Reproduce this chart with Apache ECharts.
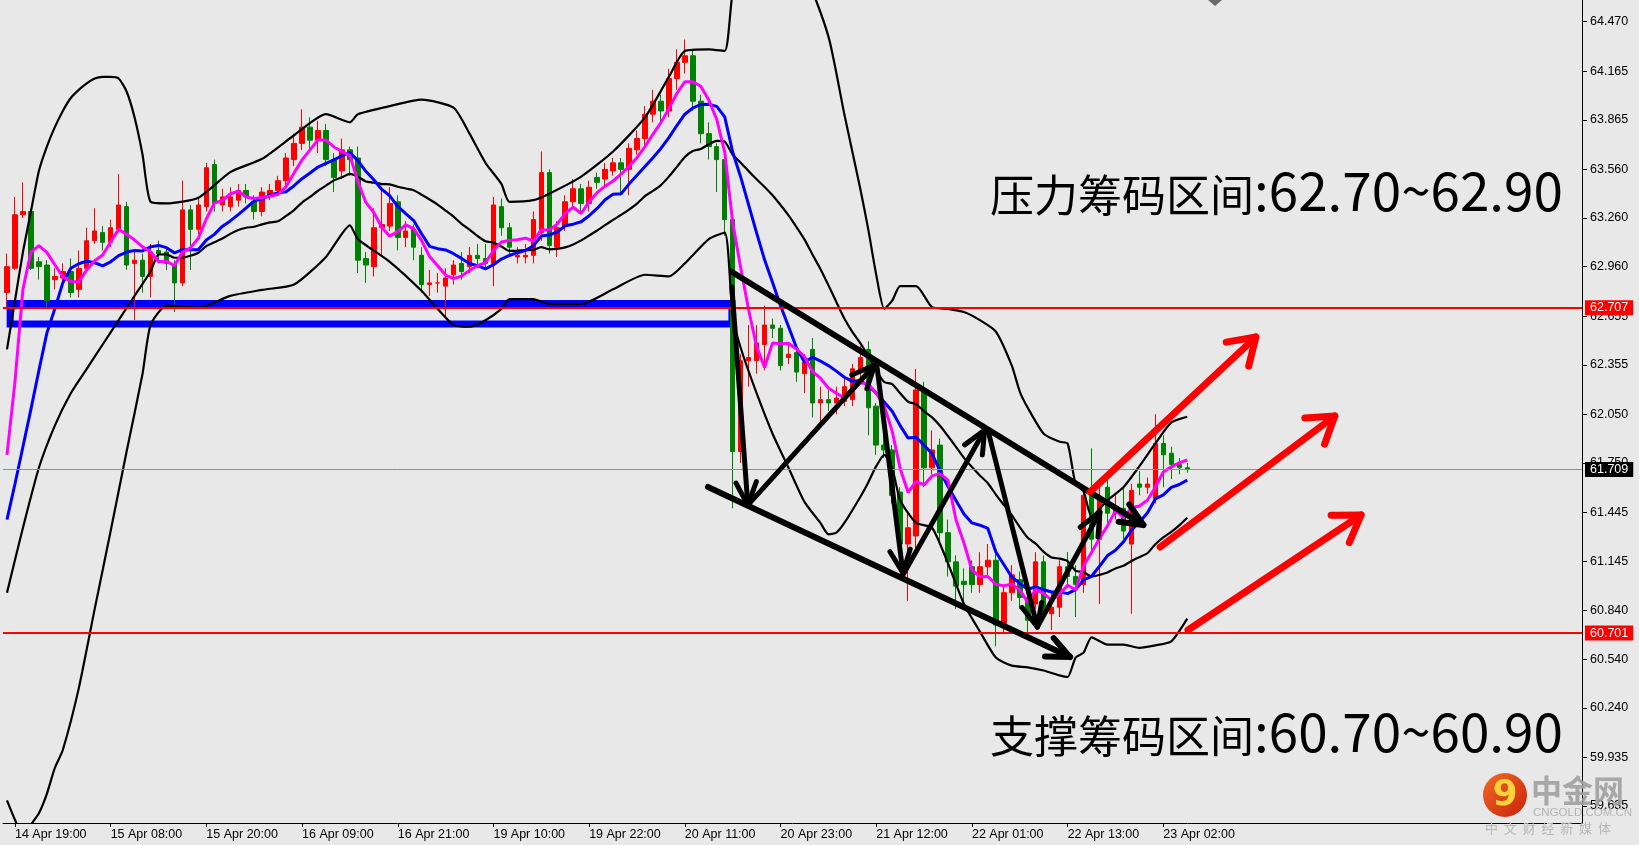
<!DOCTYPE html>
<html>
<head>
<meta charset="utf-8">
<script src="https://cdn.jsdelivr.net/npm/echarts@6/dist/echarts.min.js"></script>
<style>
html,body{margin:0;padding:0;background:#e8e8e8;}
#chart{width:1639px;height:845px;}
</style>
</head>
<body>
<div id="chart"></div>
<script>
// ---------------- data ----------------
const timeLabels = ['14 Apr 19:00','15 Apr 08:00','15 Apr 20:00','16 Apr 09:00','16 Apr 21:00','19 Apr 10:00','19 Apr 22:00','20 Apr 11:00','20 Apr 23:00','21 Apr 12:00','22 Apr 01:00','22 Apr 13:00','23 Apr 02:00'];
const labelBars = [1,13,25,37,49,61,73,85,97,109,121,133,145];
const slotCount = 198;

const openP = [62.80,62.95,63.28,63.30,62.99,62.97,62.88,62.89,62.93,62.82,62.95,63.12,63.17,63.11,63.19,63.33,62.98,63.00,62.90,63.06,
63.05,62.97,62.86,63.31,63.19,63.33,63.59,63.34,63.33,63.37,63.43,63.36,63.30,63.40,63.43,63.49,63.62,63.72,63.82,63.74,
63.80,63.62,63.55,63.68,63.63,63.01,62.96,63.20,63.21,63.36,63.14,63.19,63.03,62.85,62.86,62.84,62.91,62.98,62.96,63.03,
63.01,62.98,63.33,63.20,63.02,63.02,63.03,63.17,63.54,63.08,63.21,63.36,63.44,63.35,63.51,63.50,63.55,63.60,63.56,63.68,
63.75,63.90,63.98,63.92,64.12,64.22,64.26,63.98,63.78,63.70,63.62,63.25,61.82,62.38,62.38,62.48,62.60,62.58,62.40,62.43,
62.30,62.45,62.12,62.14,62.12,62.13,62.14,62.32,62.45,62.10,61.86,61.83,61.57,61.25,61.30,62.20,61.72,61.86,61.32,61.14,
61.02,61.11,61.00,61.11,61.15,60.76,60.95,61.03,60.92,60.88,61.14,60.82,60.86,61.11,61.05,61.00,61.55,61.28,61.60,61.44,
61.47,61.25,61.62,61.60,61.53,61.87,61.81,61.74,61.72];
const closeP = [62.96,63.28,63.30,62.95,62.96,62.75,62.90,62.93,62.80,62.95,63.12,63.18,63.11,63.20,63.34,62.97,63.00,62.90,63.05,63.04,
62.98,62.86,63.31,63.19,63.34,63.57,63.35,63.39,63.39,63.43,63.39,63.30,63.42,63.43,63.49,63.63,63.72,63.82,63.74,63.80,
63.62,63.51,63.68,63.62,63.00,62.97,63.20,63.22,63.35,63.14,63.18,63.08,62.85,62.86,62.86,62.89,62.97,62.93,63.03,63.01,
62.98,63.34,63.20,63.08,63.03,63.03,63.25,63.54,63.09,63.20,63.36,63.44,63.35,63.45,63.48,63.56,63.60,63.56,63.69,63.75,
63.90,63.98,63.92,64.12,64.22,64.26,63.98,63.78,63.70,63.62,63.25,61.82,62.38,62.40,62.49,62.60,62.58,62.35,62.42,62.31,
62.37,62.12,62.14,62.12,62.15,62.22,62.33,62.40,62.09,61.86,61.83,61.55,61.25,61.35,62.20,61.72,61.83,61.32,61.14,60.99,
61.00,61.00,61.11,61.15,60.75,60.95,61.06,60.92,60.78,61.14,60.82,60.86,61.11,61.05,61.00,61.55,61.28,61.54,61.44,61.47,
61.33,61.58,61.60,61.62,61.87,61.80,61.74,61.72,61.709];
const lowP = [62.71,62.94,63.26,62.94,62.88,62.70,62.82,62.85,62.77,62.77,62.93,63.10,63.06,63.08,63.17,62.94,62.63,62.80,62.77,62.98,
62.94,62.68,62.84,62.94,63.16,63.30,63.30,63.30,63.30,63.33,63.35,63.25,63.27,63.37,63.40,63.46,63.58,63.68,63.68,63.66,
63.58,63.42,63.50,63.52,62.92,62.86,62.90,63.02,63.18,63.06,63.08,63.00,62.80,62.78,62.80,62.65,62.85,62.88,62.92,62.95,
62.95,62.84,63.15,63.02,62.98,62.98,62.98,63.12,63.04,63.02,63.18,63.32,63.30,63.30,63.44,63.46,63.52,63.40,63.40,63.65,
63.70,63.85,63.85,63.88,64.05,64.15,63.92,63.72,63.62,63.42,63.15,61.47,61.75,62.22,62.30,62.32,62.52,62.32,62.36,62.25,
62.18,62.03,61.98,62.07,62.05,62.10,62.10,62.28,61.92,61.80,61.78,61.50,61.20,60.90,61.22,61.60,61.68,61.25,61.05,60.85,
60.90,60.95,60.95,61.05,60.62,60.70,60.90,60.85,60.70,60.85,60.78,60.72,60.80,60.98,60.80,60.95,61.20,60.88,61.38,61.40,
61.28,60.82,61.55,61.56,61.50,61.60,61.65,61.68,61.69];
const highP = [63.04,63.39,63.48,63.32,63.02,63.00,62.95,62.98,63.01,63.06,63.20,63.32,63.21,63.25,63.53,63.36,63.05,63.04,63.10,63.12,
63.08,63.00,63.49,63.34,63.38,63.60,63.62,63.44,63.45,63.47,63.47,63.40,63.45,63.47,63.52,63.66,63.78,63.93,63.88,63.86,
63.84,63.66,63.75,63.70,63.70,63.05,63.32,63.45,63.45,63.40,63.24,63.22,63.08,62.94,62.92,62.95,63.00,63.05,63.08,63.10,
63.10,63.39,63.38,63.23,63.08,63.10,63.30,63.67,63.56,63.24,63.40,63.50,63.47,63.49,63.54,63.60,63.63,63.63,63.72,63.80,
63.95,64.05,64.02,64.18,64.30,64.36,64.30,64.02,63.85,63.72,63.65,63.28,62.42,62.60,62.60,62.72,62.64,62.60,62.48,62.46,
62.42,62.52,62.22,62.20,62.22,62.28,62.36,62.47,62.50,62.12,61.95,61.86,61.60,61.45,62.33,62.25,61.95,61.90,61.40,61.18,
61.10,61.15,61.20,61.25,61.20,61.00,61.12,61.08,60.98,61.20,61.18,60.95,61.15,61.20,61.12,61.60,61.84,61.60,61.70,61.55,
61.60,61.62,61.70,61.66,62.05,61.92,61.85,61.78,61.75];

// moving averages read per bar (magenta = fast, blue = slow)
const ma5 = [61.80,62.25,62.82,63.05,63.090,63.048,62.972,62.898,62.868,62.866,62.940,62.996,63.032,63.112,63.190,63.160,63.124,63.082,63.052,62.992,
62.994,62.966,63.048,63.076,63.136,63.254,63.352,63.368,63.408,63.426,63.390,63.380,63.386,63.394,63.406,63.454,63.538,63.618,63.680,63.742,
63.740,63.698,63.670,63.646,63.486,63.356,63.294,63.202,63.148,63.176,63.218,63.194,63.120,63.022,62.966,62.908,62.886,62.902,62.936,62.966,
62.984,63.058,63.112,63.122,63.126,63.136,63.118,63.186,63.188,63.222,63.288,63.326,63.288,63.360,63.416,63.456,63.488,63.530,63.578,63.632,
63.700,63.776,63.848,63.934,64.028,64.100,64.100,64.072,63.988,63.868,63.666,63.234,62.954,62.694,62.468,62.338,62.490,62.484,62.488,62.452,
62.406,62.314,62.272,62.212,62.180,62.150,62.192,62.244,62.238,62.180,62.102,61.946,61.716,61.568,61.636,61.614,61.670,61.684,61.642,61.400,
61.256,61.090,61.048,61.050,61.002,60.992,61.004,60.966,60.892,60.970,60.944,60.904,60.942,60.996,60.968,61.114,61.198,61.284,61.362,61.456,
61.412,61.472,61.484,61.520,61.600,61.694,61.726,61.750,61.768];
const ma10 = [61.40,61.62,61.85,62.08,62.32,62.55,62.70,62.86,62.95,62.978,62.994,62.984,62.965,62.990,63.028,63.050,63.060,63.057,63.082,63.091,
63.077,63.045,63.065,63.064,63.064,63.124,63.159,63.208,63.242,63.281,63.322,63.366,63.377,63.401,63.416,63.422,63.459,63.502,63.537,63.574,
63.597,63.618,63.644,63.663,63.614,63.548,63.496,63.436,63.397,63.331,63.287,63.244,63.161,63.085,63.071,63.063,63.040,63.011,62.979,62.966,
62.946,62.972,63.007,63.029,63.046,63.060,63.088,63.149,63.155,63.174,63.212,63.222,63.237,63.274,63.319,63.372,63.407,63.409,63.469,63.524,
63.578,63.632,63.689,63.756,63.830,63.900,63.938,63.960,63.961,63.948,63.883,63.667,63.513,63.341,63.168,63.002,62.862,62.719,62.591,62.460,
62.372,62.402,62.378,62.350,62.316,62.278,62.253,62.258,62.225,62.180,62.126,62.069,61.980,61.903,61.908,61.858,61.808,61.700,61.605,61.518,
61.435,61.380,61.366,61.346,61.201,61.124,61.047,61.007,60.971,60.986,60.968,60.954,60.954,60.944,60.969,61.029,61.051,61.113,61.179,61.212,
61.263,61.335,61.384,61.441,61.528,61.553,61.599,61.617,61.644];

// Bollinger band lines, [bar, price]
const bbMid = [[0,60.95],[2,61.35],[4,61.72],[6,61.98],[8,62.18],[10,62.33],[12,62.48],[14,62.63],[16,62.78],[18,62.93],
[19,63.035],[20,63.036],[21,63.015],[22,63.015],[23,63.027],[24,63.046],[25,63.087],[26,63.110],[27,63.133],[28,63.162],[29,63.186],
[30,63.200],[31,63.206],[32,63.221],[33,63.233],[34,63.240],[35,63.273],[36,63.309],[37,63.355],[38,63.390],[39,63.428],
[40,63.460],[41,63.492],[42,63.511],[43,63.532],[44,63.515],[45,63.485],[46,63.478],[47,63.469],[48,63.467],[49,63.453],
[50,63.442],[51,63.431],[52,63.403],[53,63.374],[54,63.343],[55,63.306],[56,63.268],[57,63.224],[58,63.188],[59,63.149],
[60,63.117],[61,63.108],[62,63.084],[63,63.057],[64,63.059],[65,63.062],[66,63.064],[67,63.080],[68,63.067],[69,63.070],
[70,63.079],[71,63.097],[72,63.122],[73,63.152],[74,63.183],[75,63.216],[76,63.248],[77,63.279],[78,63.312],[79,63.349],
[80,63.395],[81,63.427],[82,63.463],[83,63.515],[84,63.575],[85,63.636],[86,63.673],[87,63.685],[88,63.715],[89,63.736],
[90,63.731],[91,63.650],[92,63.601],[93,63.549],[94,63.499],[95,63.451],[96,63.400],[97,63.340],[98,63.276],[99,63.204],
[100,63.128],[101,63.035],[102,62.946],[103,62.846],[104,62.742],[105,62.640],[106,62.558],[107,62.489],[108,62.408],[109,62.320],
[110,62.249],[111,62.236],[112,62.179],[113,62.127],[114,62.112],[115,62.068],[116,62.031],[117,61.979],[118,61.915],[119,61.849],
[120,61.781],[121,61.725],[122,61.673],[123,61.625],[124,61.555],[125,61.491],[126,61.428],[127,61.354],[128,61.288],[129,61.252],
[130,61.202],[131,61.167],[132,61.160],[133,61.145],[134,61.085],[135,61.077],[136,61.049],[137,61.060],[138,61.075],[139,61.099],
[140,61.116],[141,61.145],[142,61.169],[143,61.193],[144,61.249],[145,61.291],[146,61.325],[147,61.365],[148,61.412]];
const bbUpper = [[0,62.45],[1,62.75],[2,63.05],[3,63.30],[4,63.55],[5,63.70],[6,63.82],[7,63.92],[8,64.00],[9,64.05],[10,64.09],
[11,64.12],[12,64.13],[13,64.13],[14,64.12],[15,64.04],[16,63.88],[17,63.65],[18,63.36],[20,63.35],[24,63.385],[28,63.543],
[32,63.625],[36,63.77],[40,63.90],[43,63.85],[44,63.90],[48,63.95],[52,63.99],[56,63.94],[58,63.78],[60,63.60],[62,63.47],
[63,63.36],[66,63.37],[68,63.41],[72,63.515],[76,63.67],[80,63.88],[83,64.13],[85,64.29],[88,64.30],[90,64.29],[91,64.65],
[92,64.74],[95,64.84],[100,64.745],[103,64.38],[105,63.90],[107,63.44],[108,63.19],[109,62.91],[110,62.70],[111,62.75],
[112,62.84],[114,62.84],[116,62.71],[118,62.70],[120,62.68],[122,62.63],[124,62.56],[126,62.35],[127,62.19],[128,62.09],
[130,61.93],[132,61.88],[133,61.87],[134,61.62],[135,61.575],[136,61.42],[138,61.52],[140,61.60],[142,61.73],[144,61.87],
[146,62.00],[148,62.035]];
const bbLower = [[0,59.67],[1,59.55],[2,59.45],[3,59.52],[4,59.59],[5,59.71],[6,59.87],[7,59.98],[9,60.36],[11,60.85],[13,61.33],
[15,61.82],[17,62.30],[18,62.60],[20,62.72],[24,62.707],[28,62.78],[32,62.817],[36,62.85],[40,63.02],[43,63.215],[44,63.13],
[48,62.99],[52,62.81],[56,62.60],[58,62.59],[60,62.63],[62,62.70],[63,62.76],[66,62.76],[68,62.73],[72,62.73],[76,62.82],
[80,62.91],[83,62.90],[85,62.98],[88,63.13],[90,63.17],[91,62.65],[92,62.46],[94,62.18],[96,61.93],[98,61.72],[100,61.51],
[102,61.38],[103,61.31],[104,61.32],[105,61.38],[107,61.54],[108,61.63],[109,61.73],[110,61.80],[111,61.72],[112,61.52],
[114,61.38],[116,61.35],[118,61.13],[120,60.88],[122,60.71],[124,60.55],[126,60.50],[128,60.49],[130,60.47],[132,60.44],
[133,60.43],[134,60.55],[135,60.58],[136,60.675],[138,60.63],[140,60.63],[142,60.61],[144,60.625],[146,60.65],[148,60.79]];

const yTickValues = [64.470,64.165,63.865,63.560,63.260,62.960,62.655,62.355,62.050,61.750,61.445,61.145,60.840,60.540,60.240,59.935,59.635];
const resistanceLevel = 62.707;
const supportLevel = 60.701;
const lastPrice = 61.709;
const zoneBox = [[0.4, 62.733], [90.9, 62.606]];

// drawn trend objects: [startBar, startPrice, endBar, endPrice]
const channelLines = [[90.9, 62.927, 142.5, 61.367], [87.9, 61.602, 133.3, 60.553]];
const zigzagArrows = [[90.9, 62.835, 92.9, 61.49], [92.9, 61.49, 108.8, 62.354], [109.1, 62.341, 112.35, 61.071],
  [112.35, 61.059, 122.6, 61.953], [123.0, 61.953, 129.2, 60.738], [129.2, 60.738, 137.05, 61.447]];
const redArrows = [[135.8, 61.571, 156.6, 62.526], [144.6, 61.232, 166.5, 62.039], [148.1, 60.720, 169.8, 61.429]];

const resistanceText = ['压力筹码区间', ':62.70~62.90'];
const supportText = ['支撑筹码区间', ':60.70~60.90'];

// ---------------- chart ----------------
const categories = Array.from({length: slotCount}, (_, i) => {
  const j = labelBars.indexOf(i);
  return j >= 0 ? timeLabels[j] : '';
});
const candles = openP.map((o, i) => [o, closeP[i], lowP[i], highP[i]]);
const toPairs = arr => arr.map((v, i) => [i, v]);

function arrowRenderer(color, width, headLen, headAng) {
  return function (params, api) {
    const p1 = api.coord([api.value(0), api.value(1)]);
    const p2 = api.coord([api.value(2), api.value(3)]);
    const ang = Math.atan2(p1[1] - p2[1], p1[0] - p2[0]);
    const h1 = [p2[0] + headLen * Math.cos(ang + headAng), p2[1] + headLen * Math.sin(ang + headAng)];
    const h2 = [p2[0] + headLen * Math.cos(ang - headAng), p2[1] + headLen * Math.sin(ang - headAng)];
    const st = {stroke: color, lineWidth: width, lineCap: 'round', lineJoin: 'round', fill: null};
    return {type: 'group', children: [
      {type: 'line', shape: {x1: p1[0], y1: p1[1], x2: p2[0], y2: p2[1]}, style: st},
      {type: 'polyline', shape: {points: [h1, p2, h2]}, style: st}
    ]};
  };
}

const chart = echarts.init(document.getElementById('chart'));
const axisFont = 'Liberation Sans';
const boxLabel = bg => ({show: true, position: 'end', distance: 3, formatter: p => Number(p.value).toFixed(3), color: '#fff',
  backgroundColor: bg, padding: [1, 5, 1, 5], fontSize: 12.5, fontFamily: axisFont});

const option = {
  animation: false,
  backgroundColor: '#e8e8e8',
  grid: {left: 3, right: 57, top: 0, bottom: 22, containLabel: false},
  xAxis: [
    {type: 'category', data: categories, boundaryGap: true,
     axisLine: {show: true, onZero: false, lineStyle: {color: '#000', width: 1}},
     axisTick: {show: true, alignWithLabel: true, length: 4, interval: (i, v) => v !== '', lineStyle: {color: '#000'}},
     axisLabel: {show: true, interval: (i, v) => v !== '', align: 'left', margin: 5, color: '#000', fontSize: 12.5, fontFamily: axisFont},
     splitLine: {show: false}},
    {type: 'value', min: -0.5, max: slotCount - 0.5, show: false, splitLine: {show: false},
     axisLine: {show: false, onZero: false}}
  ],
  yAxis: [{
    type: 'value', position: 'right', min: 59.530, max: 64.604, scale: true,
    axisLine: {show: true, onZero: false, lineStyle: {color: '#000', width: 1}},
    axisTick: {show: true, inside: false, length: 5, customValues: yTickValues, lineStyle: {color: '#000'}},
    axisLabel: {show: true, customValues: yTickValues, margin: 8, color: '#000', fontSize: 12.5, fontFamily: axisFont,
                formatter: v => v.toFixed(3)},
    splitLine: {show: false}
  }],
  series: [
    {type: 'candlestick', xAxisIndex: 0, yAxisIndex: 0, data: candles, barWidth: 5, z: 2,
     itemStyle: {color: '#ff0000', color0: '#008000', borderColor: '#ff0000', borderColor0: '#008000', borderWidth: 1}},
    {type: 'line', name: 'zone', xAxisIndex: 1, yAxisIndex: 0, data: [], z: 3, silent: true,
     markArea: {silent: true, itemStyle: {color: 'rgba(0,0,0,0)', borderColor: '#0000ff', borderWidth: 7},
                data: [[{coord: zoneBox[0]}, {coord: zoneBox[1]}]]}},
    {type: 'line', name: 'bbUpper', xAxisIndex: 1, data: bbUpper, showSymbol: false, symbol: 'none', smooth: 0.2, z: 3,
     lineStyle: {color: '#000', width: 2.2}},
    {type: 'line', name: 'bbMid', xAxisIndex: 1, data: bbMid, showSymbol: false, symbol: 'none', smooth: 0.2, z: 3,
     lineStyle: {color: '#000', width: 2.2}},
    {type: 'line', name: 'bbLower', xAxisIndex: 1, data: bbLower, showSymbol: false, symbol: 'none', smooth: 0.2, z: 3,
     lineStyle: {color: '#000', width: 2.2}},
    {type: 'line', name: 'ma10', xAxisIndex: 1, data: toPairs(ma10), showSymbol: false, symbol: 'none', z: 4,
     lineStyle: {color: '#0000ff', width: 3}},
    {type: 'line', name: 'ma5', xAxisIndex: 1, data: toPairs(ma5), showSymbol: false, symbol: 'none', z: 4,
     lineStyle: {color: '#ff00ff', width: 3}},
    {type: 'line', name: 'levels', xAxisIndex: 1, data: [], z: 6, silent: true,
     markLine: {silent: true, symbol: ['none', 'none'], animation: false, precision: 3,
       data: [
         {yAxis: lastPrice, lineStyle: {color: '#86909a', width: 1, type: 'solid'}, label: boxLabel('#000')},
         {yAxis: resistanceLevel, lineStyle: {color: '#ff0000', width: 2, type: 'solid'}, label: boxLabel('#ff0000')},
         {yAxis: supportLevel, lineStyle: {color: '#ff0000', width: 2, type: 'solid'}, label: boxLabel('#ff0000')}
       ]}},
    {type: 'custom', name: 'channel', xAxisIndex: 1, yAxisIndex: 0, data: channelLines, z: 10, clip: false, silent: true,
     encode: {x: [0, 2], y: [1, 3]}, renderItem: arrowRenderer('#000', 6, 25, 0.42)},
    {type: 'custom', name: 'zigzag', xAxisIndex: 1, yAxisIndex: 0, data: zigzagArrows, z: 10, clip: false, silent: true,
     encode: {x: [0, 2], y: [1, 3]}, renderItem: arrowRenderer('#000', 5, 25, 0.42)},
    {type: 'custom', name: 'red', xAxisIndex: 1, yAxisIndex: 0, data: redArrows, z: 10, clip: false, silent: true,
     encode: {x: [0, 2], y: [1, 3]}, renderItem: arrowRenderer('#ff0000', 7, 30, 0.58)}
  ],
  graphic: [
    {type: 'text', x: 990, y: 188, z: 20, silent: true,
     style: {text: '{a|' + resistanceText[0] + '}{b|' + resistanceText[1] + '}', verticalAlign: 'middle', align: 'left',
       rich: {a: {fontSize: 44, fontFamily: 'Noto Sans CJK SC', fill: '#000', verticalAlign: 'bottom', lineHeight: 58},
              b: {fontSize: 53, fontFamily: 'Noto Sans CJK SC', fill: '#000', verticalAlign: 'bottom', lineHeight: 58}}}},
    {type: 'text', x: 990, y: 729, z: 20, silent: true,
     style: {text: '{a|' + supportText[0] + '}{b|' + supportText[1] + '}', verticalAlign: 'middle', align: 'left',
       rich: {a: {fontSize: 44, fontFamily: 'Noto Sans CJK SC', fill: '#000', verticalAlign: 'bottom', lineHeight: 58},
              b: {fontSize: 53, fontFamily: 'Noto Sans CJK SC', fill: '#000', verticalAlign: 'bottom', lineHeight: 58}}}},
    {type: 'polygon', z: 20, silent: true, shape: {points: [[1208, 0], [1222, 0], [1215, 6]]}, style: {fill: '#6a6a6a'}},
    // logo
    {type: 'circle', z: 20, silent: true, shape: {cx: 1505, cy: 795, r: 22},
     style: {fill: {type: 'linear', x: 0, y: 0, x2: 1, y2: 1, colorStops: [{offset: 0, color: '#f26a22'}, {offset: 1, color: '#c8220e'}]}}},
    {type: 'text', z: 21, silent: true, x: 1505, y: 796,
     style: {text: '9', fontSize: 36, fontWeight: 'bold', fontFamily: 'DejaVu Sans', fill: '#ffd23a', align: 'center', verticalAlign: 'middle'}},
    {type: 'text', z: 21, silent: true, x: 1531, y: 790,
     style: {text: '中金网', fontSize: 31, fontWeight: 'bold', fontFamily: 'Noto Sans CJK SC', fill: 'rgba(160,160,160,0.9)', align: 'left', verticalAlign: 'middle'}},
    {type: 'text', z: 21, silent: true, x: 1533, y: 813,
     style: {text: 'CNGOLD.COM.CN', fontSize: 11.5, fontFamily: axisFont, fill: '#b3b3b3', align: 'left', verticalAlign: 'middle'}},
    {type: 'text', z: 21, silent: true, x: 1485, y: 828,
     style: {text: '中  文  财  经  新  媒  体', fontSize: 13, fontFamily: 'Noto Sans CJK SC', fill: '#b8b8b8', align: 'left', verticalAlign: 'middle'}}
  ]
};
chart.setOption(option);
</script>
</body>
</html>
